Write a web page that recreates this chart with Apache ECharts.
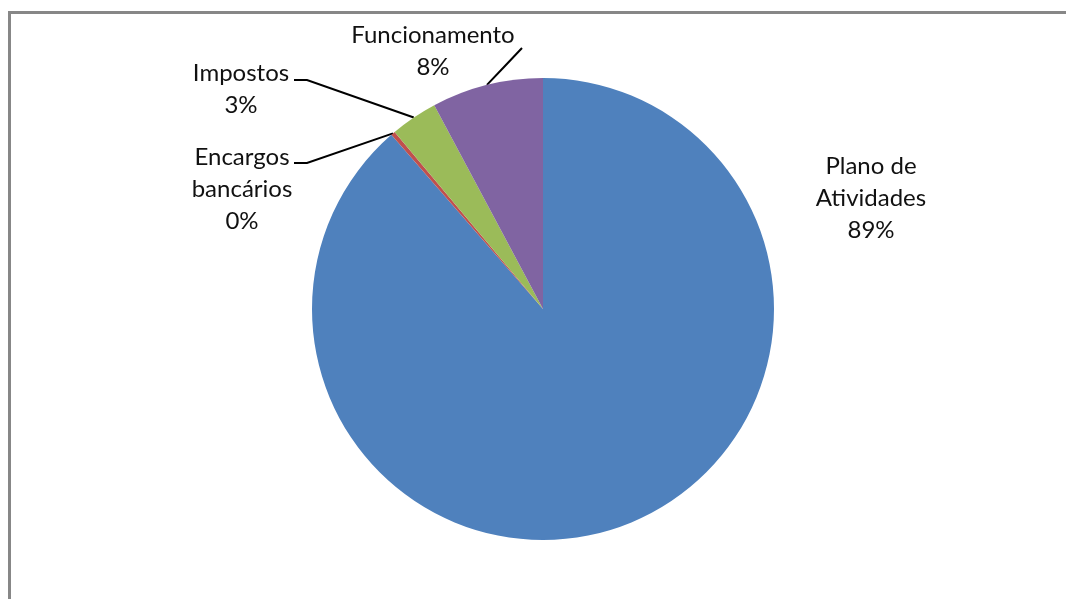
<!DOCTYPE html>
<html><head><meta charset="utf-8">
<script src="https://cdn.jsdelivr.net/npm/echarts@6/dist/echarts.min.js"></script>
<style>html,body{margin:0;padding:0;background:#fff}#c{width:1066px;height:599px}</style>
</head><body><div id="c"></div>
<script>
const categories = ['Plano de Atividades', 'Encargos bancários', 'Impostos', 'Funcionamento'];
const labelNames = ['Plano de\nAtividades', 'Encargos\nbancários', 'Impostos', 'Funcionamento'];
const values = [88.6, 0.3, 3.3, 7.8];
const colors = ['#4F81BD', '#C0504D', '#9BBB59', '#8064A2'];

// label block centres and leader-line anchor points (styling only)
const labelPos = [[871, 198], [242, 189], [241, 89], [433, 51]];
const lineEnd = [null, [294, 163], [294, 80], [522, 48]];
const lineElbow = [null, [307, 163], [307, 80], null];

const chart = echarts.init(document.getElementById('c'), null, { renderer: 'canvas' });
const CX = 543, CY = 309, R = 231;

function sliceEdgePoint(i) {
  const total = values.reduce((a, b) => a + b, 0);
  let before = 0;
  for (let k = 0; k < i; k++) before += values[k];
  const mid = (before + values[i] / 2) / total * Math.PI * 2;
  return [CX + R * Math.sin(mid), CY - R * Math.cos(mid)];
}

chart.setOption({
  animation: false,
  backgroundColor: '#ffffff',
  graphic: [{
    type: 'rect',
    shape: { x: 9.5, y: 12.5, width: 1200, height: 1000 },
    style: { fill: 'none', stroke: '#878787', lineWidth: 3 },
    silent: true
  }],
  series: [{
    type: 'pie',
    center: [CX, CY],
    radius: [0, R],
    startAngle: 90,
    clockwise: true,
    avoidLabelOverlap: false,
    data: categories.map((n, i) => ({
      name: n,
      value: values[i],
      itemStyle: { color: colors[i] },
      labelLine: { show: !!lineEnd[i] }
    })),
    itemStyle: { borderWidth: 0 },
    label: {
      show: true,
      position: 'outside',
      fontFamily: 'Lato',
      fontSize: 24,
      lineHeight: 32,
      color: '#111111',
      align: 'center',
      formatter: p => labelNames[p.dataIndex] + '\n' + Math.round(p.percent) + '%'
    },
    labelLine: {
      show: true,
      smooth: false,
      lineStyle: { color: '#000000', width: 2 }
    },
    labelLayout: function (p) {
      const i = p.dataIndex;
      const res = { x: labelPos[i][0], y: labelPos[i][1], align: 'center', verticalAlign: 'middle' };
      if (lineEnd[i]) {
        const s = sliceEdgePoint(i);
        const e = lineEnd[i];
        const m = lineElbow[i] || [(s[0] + e[0]) / 2, (s[1] + e[1]) / 2];
        res.labelLinePoints = [s, m, e];
      }
      return res;
    },
    emphasis: { disabled: true }
  }]
});
</script>
</body></html>
